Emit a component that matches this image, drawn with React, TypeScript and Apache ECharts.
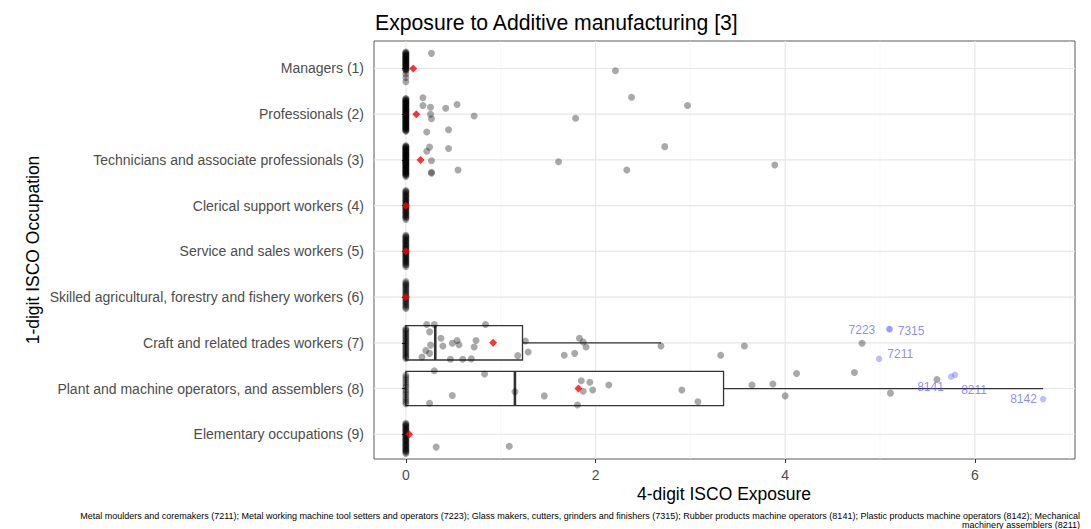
import { useEffect, useRef } from 'react';
import * as echarts from 'echarts';

// 1-digit ISCO groups, top to bottom
const occupations = [
  'Managers (1)',
  'Professionals (2)',
  'Technicians and associate professionals (3)',
  'Clerical support workers (4)',
  'Service and sales workers (5)',
  'Skilled agricultural, forestry and fishery workers (6)',
  'Craft and related trades workers (7)',
  'Plant and machine operators, and assemblers (8)',
  'Elementary occupations (9)',
];

// Vertical jitter of the 4-digit occupations with zero exposure, per group
const managersZero = [-0.36, -0.345, -0.33, -0.31, -0.3, -0.285, -0.27, -0.25, -0.24, -0.225, -0.21, -0.19, -0.18, -0.165, -0.15, -0.13, -0.12, -0.105, -0.09, -0.07, -0.06, -0.045, -0.03, -0.01, 0, 0.015, 0.03, 0.05, 0.12, 0.2, 0.29];
const professionalsZero = [-0.34, -0.33, -0.31, -0.3, -0.28, -0.27, -0.25, -0.24, -0.23, -0.21, -0.2, -0.18, -0.17, -0.15, -0.14, -0.12, -0.11, -0.09, -0.08, -0.07, -0.05, -0.04, -0.02, -0.01, 0.01, 0.02, 0.04, 0.05, 0.07, 0.08, 0.09, 0.11, 0.12, 0.14, 0.15, 0.17, 0.18, 0.2, 0.21, 0.23, 0.24, 0.25, 0.27, 0.28, 0.3, 0.31, 0.33, 0.34, 0.36, 0.37];
const techniciansZero = [-0.31, -0.3, -0.28, -0.27, -0.25, -0.24, -0.22, -0.21, -0.19, -0.18, -0.16, -0.15, -0.13, -0.12, -0.11, -0.09, -0.08, -0.06, -0.05, -0.03, -0.02, 0, 0.01, 0.03, 0.04, 0.06, 0.07, 0.08, 0.1, 0.11, 0.13, 0.14, 0.16, 0.17, 0.19, 0.2, 0.22, 0.23, 0.25, 0.26, 0.28, 0.29, 0.31, 0.32, 0.34, 0.36];
const clericalZero = [-0.33, -0.31, -0.29, -0.27, -0.24, -0.22, -0.2, -0.18, -0.15, -0.13, -0.11, -0.09, -0.06, -0.04, -0.02, 0, 0.03, 0.05, 0.07, 0.09, 0.12, 0.14, 0.16, 0.18, 0.21, 0.23, 0.25, 0.27, 0.3];
const serviceZero = [-0.35, -0.33, -0.31, -0.29, -0.26, -0.24, -0.22, -0.2, -0.17, -0.15, -0.13, -0.11, -0.08, -0.06, -0.04, -0.02, 0.01, 0.03, 0.05, 0.07, 0.1, 0.12, 0.14, 0.16, 0.19, 0.21, 0.23, 0.25, 0.28, 0.3, 0.33];
const skilledZero = [-0.34, -0.31, -0.28, -0.26, -0.23, -0.2, -0.17, -0.14, -0.11, -0.08, -0.05, -0.02, 0.01, 0.04, 0.07, 0.1, 0.13, 0.16, 0.19, 0.22, 0.25];
const craftZero = [-0.31, -0.28, -0.25, -0.21, -0.18, -0.14, -0.11, -0.07, -0.04, 0, 0.03, 0.07, 0.1, 0.14, 0.17, 0.21, 0.24, 0.28, 0.31, 0.34];
const plantZero = [-0.29, -0.24, -0.19, -0.13, -0.08, -0.03, 0.03, 0.08, 0.13, 0.19, 0.24, 0.29, 0.33];
const elementaryZero = [-0.24, -0.22, -0.2, -0.18, -0.16, -0.13, -0.11, -0.09, -0.07, -0.05, -0.02, 0, 0.02, 0.04, 0.06, 0.09, 0.11, 0.13, 0.15, 0.17, 0.2, 0.22, 0.24, 0.26, 0.28, 0.31, 0.33, 0.35, 0.37, 0.39, 0.42];

// Non-zero exposures: [exposure, vertical jitter]
const managersPts = [[0.27, -0.33], [2.21, 0.05]];
const professionalsPts = [
  [2.38, -0.37], [2.97, -0.19], [0.18, -0.36], [0.18, -0.19], [0.26, -0.15], [0.42, -0.13], [0.54, -0.21],
  [0.26, 0], [0.27, 0.1], [0.72, 0.04], [1.79, 0.09], [0.22, 0.39], [0.45, 0.34],
];
const techniciansPts = [
  [0.25, -0.28], [0.22, -0.19], [0.45, -0.25], [2.73, -0.29], [0.27, 0.02], [1.61, 0.04],
  [0.27, 0.27], [0.27, 0.29], [0.55, 0.22], [2.33, 0.22], [3.89, 0.11],
];
const clericalPts: number[][] = [];
const servicePts: number[][] = [];
const skilledPts: number[][] = [];
const craftPts = [
  [0.22, -0.4], [0.3, -0.4], [0.84, -0.4], [0.25, -0.24], [0.37, -0.1], [0.26, 0.05], [0.39, 0.07],
  [0.49, 0.01], [0.54, -0.05], [0.56, 0.04], [0.74, -0.05], [0.72, 0.09], [0.21, 0.17], [0.25, 0.23],
  [0.17, 0.31], [0.47, 0.36], [0.6, 0.36], [0.69, 0.35], [1.18, 0.28], [1.26, -0.04], [1.29, 0.2],
  [1.83, -0.1], [1.87, -0.02], [1.9, 0.09], [1.67, 0.27], [1.78, 0.23], [2.69, 0.07], [3.32, 0.27],
  [3.57, 0.07], [4.81, 0.01],
];
const plantPts = [
  [0.3, -0.39], [0.83, -0.32], [0.49, 0.15], [0.25, 0.32], [1.15, 0.07], [1.46, 0.16], [1.85, -0.17],
  [1.94, -0.14], [2.14, -0.08], [1.87, 0.06], [1.97, 0.03], [1.81, 0.36], [2.91, 0.03], [3.08, 0.29],
  [3.65, -0.08], [3.87, -0.1], [4.0, 0.16], [4.12, -0.33], [4.73, -0.35], [5.11, 0.1], [5.6, -0.2],
];
const elementaryPts = [[0.32, 0.28], [1.09, 0.26]];

// Group means (red diamonds)
const groupMeans = [0.077, 0.11, 0.155, 0, 0, 0, 0.92, 1.82, 0.035];

// Boxplot statistics for groups with a non-degenerate box
const boxGroups = [7, 8];
const boxQ1 = [0, 0];
const boxMedian = [0.31, 1.15];
const boxQ3 = [1.23, 3.35];
const boxUpper = [2.69, 6.72];

// Highlighted 4-digit occupations
const highlightCodes = ['7223', '7315', '7211', '8141', '8211', '8142'];
const highlightGroup = [7, 7, 7, 8, 8, 8];
const highlightExposure = [5.1, 5.1, 4.99, 5.75, 5.79, 6.72];
const highlightJitter = [-0.3, -0.3, 0.35, -0.26, -0.3, 0.23];

// Axis breaks
const xMajorTicks = [0, 2, 4, 6];
const xMinorTicks = [1, 3, 5, 7];
const groupTicks = [1, 2, 3, 4, 5, 6, 7, 8, 9];

const footnote =
  'Metal moulders and coremakers (7211); Metal working machine tool setters and operators (7223); Glass makers, cutters, grinders and finishers (7315); Rubber products machine operators (8141); Plastic products machine operators (8142); Mechanical\nmachinery assemblers (8211)';

const FONT = '"Liberation Sans", Arial, Helvetica, sans-serif';

const labelPlacement: Record<string, { position: string; distance: number; offset: number[] }> = {
  '7223': { position: 'left', distance: 11, offset: [0, 1] },
  '7315': { position: 'right', distance: 5, offset: [0, 2] },
  '7211': { position: 'right', distance: 5, offset: [0, -5] },
  '8141': { position: 'left', distance: 4, offset: [0, 10] },
  '8211': { position: 'right', distance: 3, offset: [0, 15] },
  '8142': { position: 'left', distance: 3, offset: [0, 0] },
};

export default function App() {
  const ref = useRef<HTMLDivElement>(null);

  useEffect(() => {
    if (!ref.current) return;
    const chart = echarts.init(ref.current, undefined, { renderer: 'svg' });

    const zeroLists = [managersZero, professionalsZero, techniciansZero, clericalZero, serviceZero, skilledZero, craftZero, plantZero, elementaryZero];
    const pointLists = [managersPts, professionalsPts, techniciansPts, clericalPts, servicePts, skilledPts, craftPts, plantPts, elementaryPts];

    const jitterData: number[][] = [];
    zeroLists.forEach((list, i) => list.forEach((j) => jitterData.push([0, i + 1 + j])));
    pointLists.forEach((list, i) => list.forEach(([v, j]) => jitterData.push([v, i + 1 + j])));

    const gridData: number[][] = [
      ...xMajorTicks.map((v) => [0, v, 1]),
      ...xMinorTicks.map((v) => [0, v, 0]),
      ...groupTicks.map((v) => [1, v, 1]),
    ];

    const boxData = boxGroups.map((g, i) => [g, boxQ1[i], boxMedian[i], boxQ3[i], boxUpper[i]]);
    const meanData = groupMeans.map((m, i) => [m, i + 1]);
    const highlightData = highlightCodes.map((code, i) => {
      const p = labelPlacement[code];
      return {
        name: code,
        value: [highlightExposure[i], highlightGroup[i] + highlightJitter[i]],
        label: { position: p.position, distance: p.distance, offset: p.offset },
      };
    });

    chart.setOption({
      animation: false,
      backgroundColor: '#ffffff',
      grid: {
        left: 374,
        top: 41,
        width: 701,
        height: 418,
        show: true,
        borderColor: '#5a5a5a',
        borderWidth: 1,
        backgroundColor: 'transparent',
      },
      xAxis: {
        type: 'value',
        min: -0.336,
        max: 7.056,
        axisLine: { show: false },
        splitLine: { show: false },
        axisTick: { show: true, length: 4, customValues: xMajorTicks, lineStyle: { color: '#333', width: 1 } },
        axisLabel: { customValues: xMajorTicks, color: '#4d4d4d', fontSize: 14, fontFamily: FONT, margin: 9 },
      },
      yAxis: {
        type: 'value',
        min: 0.4,
        max: 9.54,
        inverse: true,
        axisLine: { show: false },
        splitLine: { show: false },
        axisTick: { show: true, length: 4, customValues: groupTicks, lineStyle: { color: '#333', width: 1 } },
        axisLabel: {
          customValues: groupTicks,
          color: '#4d4d4d',
          fontSize: 14,
          fontFamily: FONT,
          margin: 10,
          formatter: (v: number) => occupations[Math.round(v) - 1] ?? '',
        },
      },
      series: [
        {
          type: 'custom',
          name: 'gridlines',
          silent: true,
          z: 0,
          data: gridData,
          renderItem: (params: any, api: any) => {
            const dir = api.value(0);
            const v = api.value(1);
            const major = api.value(2) === 1;
            const cs = params.coordSys;
            if (dir === 0) {
              const p = api.coord([v, 1]);
              return {
                type: 'line',
                shape: { x1: p[0], y1: cs.y, x2: p[0], y2: cs.y + cs.height },
                style: { stroke: major ? '#e6e6e6' : '#f2f2f2', lineWidth: major ? 1.1 : 0.6 },
              };
            }
            const p = api.coord([0, v]);
            return {
              type: 'line',
              shape: { x1: cs.x, y1: p[1], x2: cs.x + cs.width, y2: p[1] },
              style: { stroke: '#e6e6e6', lineWidth: 1.1 },
            };
          },
        },
        {
          type: 'custom',
          name: 'boxplot',
          silent: true,
          z: 1,
          data: boxData,
          renderItem: (_params: any, api: any) => {
            const g = api.value(0);
            const a = api.coord([api.value(1), g]);
            const m = api.coord([api.value(2), g]);
            const b = api.coord([api.value(3), g]);
            const u = api.coord([api.value(4), g]);
            const h = api.size([0, 0.75])[1];
            return {
              type: 'group',
              children: [
                { type: 'line', shape: { x1: b[0], y1: b[1], x2: u[0], y2: u[1] }, style: { stroke: '#333', lineWidth: 1.3 } },
                { type: 'rect', shape: { x: a[0], y: a[1] - h / 2, width: b[0] - a[0], height: h }, style: { fill: '#ffffff', stroke: '#333', lineWidth: 1.3 } },
                { type: 'line', shape: { x1: m[0], y1: m[1] - h / 2, x2: m[0], y2: m[1] + h / 2 }, style: { stroke: '#333', lineWidth: 2.6 } },
              ],
            };
          },
        },
        {
          type: 'scatter',
          name: 'occupations',
          silent: true,
          z: 2,
          symbol: 'circle',
          symbolSize: 7,
          itemStyle: { color: 'rgba(0,0,0,0.42)' },
          data: jitterData,
        },
        {
          type: 'scatter',
          name: 'mean',
          silent: true,
          z: 3,
          symbol: 'diamond',
          symbolSize: 8,
          itemStyle: { color: '#ff0000' },
          data: meanData,
        },
        {
          type: 'scatter',
          name: 'highlighted',
          silent: true,
          z: 4,
          symbol: 'circle',
          symbolSize: 6.5,
          itemStyle: { color: 'rgba(110,110,255,0.55)' },
          label: {
            show: true,
            formatter: (p: any) => p.name,
            color: 'rgba(70,70,255,0.8)',
            fontSize: 12,
            fontFamily: FONT,
          },
          data: highlightData,
        },
      ],
      graphic: [
        {
          type: 'text',
          x: 375,
          y: 22,
          style: {
            text: 'Exposure to Additive manufacturing [3]',
            fontSize: 21.2,
            fontFamily: FONT,
            fill: '#000',
            textAlign: 'left',
            textVerticalAlign: 'middle',
          },
        },
        {
          type: 'text',
          x: 724,
          y: 494,
          style: {
            text: '4-digit ISCO Exposure',
            fontSize: 17.5,
            fontFamily: FONT,
            fill: '#000',
            textAlign: 'center',
            textVerticalAlign: 'middle',
          },
        },
        {
          type: 'text',
          x: 33,
          y: 250,
          rotation: Math.PI / 2,
          style: {
            text: '1-digit ISCO Occupation',
            fontSize: 17.5,
            fontFamily: FONT,
            fill: '#000',
            textAlign: 'center',
            textVerticalAlign: 'middle',
          },
        },
        {
          type: 'text',
          x: 1080,
          y: 520.5,
          style: {
            text: footnote,
            fontSize: 9,
            lineHeight: 9,
            fontFamily: FONT,
            fill: '#000',
            textAlign: 'right',
            textVerticalAlign: 'middle',
          },
        },
      ],
    });

    return () => chart.dispose();
  }, []);

  return <div ref={ref} style={{ position: 'absolute', left: 0, top: 0, width: 1091, height: 529 }} />;
}
